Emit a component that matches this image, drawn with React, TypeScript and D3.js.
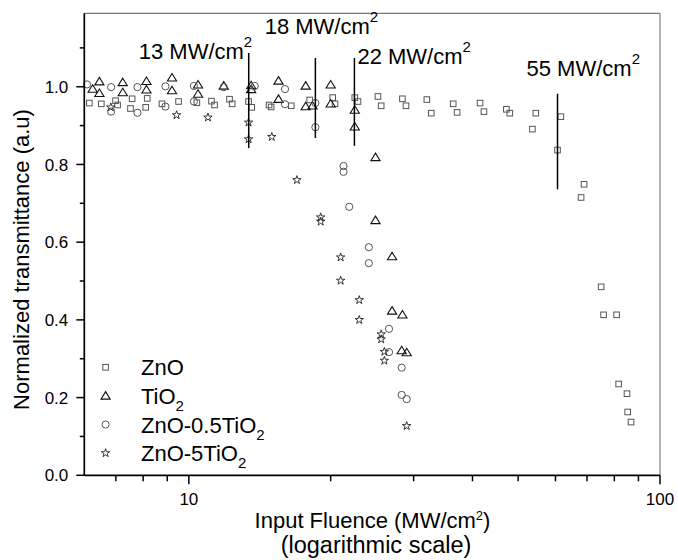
import React from 'react'
import * as d3 from 'd3'

const chartWidth = 678
const chartHeight = 560
const margin = { left: 84.3, top: 13.3, right: 18, bottom: 84.7 }
const innerWidth = chartWidth - margin.left - margin.right
const innerHeight = chartHeight - margin.top - margin.bottom
const font = 'Liberation Sans, Arial, Helvetica, sans-serif'

// ZnO (squares)
const znoFluence = [
  6.15, 6.52, 6.99, 7.06, 7.58, 7.52, 8.1, 8.16, 8.77, 9.51, 10.4, 11.17, 11.34, 12.2, 12.36,
  13.39, 13.6, 14.8, 14.95, 16.5, 18.05, 20.2, 20.43, 22.5, 22.86, 25.2, 25.6, 28.4, 28.9,
  32.0, 32.7, 36.4, 37.1, 41.5, 42.3, 47.2, 48.0, 53.6, 54.5, 60.6, 61.6, 68.0, 69.0, 75.0,
  75.9, 80.9, 81.7, 85.1, 85.4, 86.8,
]
const znoTrans = [
  0.958, 0.956, 0.964, 0.953, 0.969, 0.944, 0.947, 0.97, 0.956, 0.962, 0.959, 0.963, 0.953,
  0.968, 0.956, 0.962, 0.947, 0.953, 0.948, 0.951, 0.966, 0.972, 0.956, 0.972, 0.962, 0.975,
  0.951, 0.969, 0.951, 0.967, 0.932, 0.956, 0.934, 0.958, 0.936, 0.942, 0.932, 0.891, 0.932,
  0.837, 0.923, 0.715, 0.749, 0.485, 0.413, 0.413, 0.235, 0.21, 0.163, 0.137,
]

// TiO2 (triangles)
const tio2Fluence = [
  6.25, 6.46, 6.46, 7.24, 7.24, 8.13, 8.13, 9.21, 9.21, 10.46, 10.46, 11.86, 13.56, 13.56,
  15.5, 15.5, 17.7, 17.7, 18.3, 20.0, 20.0, 22.5, 22.5, 24.9, 24.9, 27.0, 27.0, 28.4, 28.3, 29.0,
]
const tio2Trans = [
  0.994, 1.013, 0.983, 1.011, 0.985, 1.014, 0.992, 1.023, 0.99, 1.005, 0.981, 1.002, 1.003,
  0.993, 1.015, 0.968, 1.002, 0.949, 0.951, 1.005, 0.956, 0.94, 0.897, 0.818, 0.656, 0.563,
  0.423, 0.413, 0.321, 0.316,
]

// ZnO-0.5TiO2 (circles)
const mix05Fluence = [
  6.08, 6.84, 6.84, 7.78, 7.78, 8.92, 8.92, 10.25, 10.25, 11.86, 13.8, 16.0, 16.0, 18.56, 18.56,
  21.3, 21.3, 21.9, 24.1, 24.1, 26.6, 26.6, 28.3, 28.3, 29.0,
]
const mix05Trans = [
  1.006, 0.999, 0.936, 0.999, 0.933, 1.001, 0.949, 1.002, 0.962, 0.999, 1.002, 0.994, 0.955,
  0.958, 0.896, 0.796, 0.781, 0.691, 0.587, 0.546, 0.377, 0.317, 0.277, 0.207, 0.196,
]

// ZnO-5TiO2 (stars)
const mix5Fluence = [
  6.83, 9.42, 10.98, 13.39, 13.39, 15.0, 16.96, 19.05, 19.05, 21.0, 21.0, 23.0, 23.0, 25.6, 25.6,
  26.0, 26.0, 29.0,
]
const mix5Trans = [
  0.947, 0.927, 0.921, 0.908, 0.865, 0.871, 0.76, 0.664, 0.653, 0.561, 0.501, 0.451, 0.4, 0.363,
  0.35, 0.318, 0.295, 0.127,
]

// threshold markers
const thresholdLabels = ['13', '18', '22', '55']
const thresholdFluence = [13.4, 18.56, 22.46, 60.6]
const thresholdTop = [1.087, 1.074, 1.074, 0.982]
const thresholdBottom = [0.842, 0.868, 0.848, 0.736]

const xMajorTicks = [10, 100]
const xMinorTicks = [7, 8, 9, 20, 30, 40, 50, 60, 70, 80, 90]
const yMajorTicks = [0, 0.2, 0.4, 0.6, 0.8, 1.0]
const yMinorTicks = [0.1, 0.3, 0.5, 0.7, 0.9, 1.1]

const xScale = d3.scaleLog().domain([6, 100]).range([0, innerWidth])
const yScale = d3.scaleLinear().domain([0, 1.189]).range([innerHeight, 0])

// label placement (px offsets from each marker line, and baselines)
const labelDx = [-110, -50.7, 3, -31]
const labelY = [46, 21, 51, 62.4]

const starPath = d3.symbol().type(d3.symbolStar).size(22)()

function Square({ x, y }) {
  return <rect x={x - 2.8} y={y - 2.8} width={5.6} height={5.6} fill="none" stroke="#555" strokeWidth={1} />
}
function Triangle({ x, y }) {
  return <path d={`M${x},${y - 4.3}L${x + 4.6},${y + 3.2}L${x - 4.6},${y + 3.2}Z`} fill="none" stroke="#111" strokeWidth={1.1} />
}
function Circle({ x, y }) {
  return <circle cx={x} cy={y} r={3.6} fill="none" stroke="#555" strokeWidth={1} />
}
function Star({ x, y }) {
  return <path d={starPath} transform={`translate(${x},${y})`} fill="none" stroke="#222" strokeWidth={0.9} />
}

const series = [
  { name: 'ZnO', xs: znoFluence, ys: znoTrans, Mark: Square },
  { name: 'TiO2', xs: tio2Fluence, ys: tio2Trans, Mark: Triangle },
  { name: 'ZnO-0.5TiO2', xs: mix05Fluence, ys: mix05Trans, Mark: Circle },
  { name: 'ZnO-5TiO2', xs: mix5Fluence, ys: mix5Trans, Mark: Star },
]

function Subbed({ name }) {
  if (!name.endsWith('2')) return <>{name}</>
  return (
    <>
      {name.slice(0, -1)}
      <tspan dy={7} fontSize={15}>2</tspan>
    </>
  )
}

export default function App() {
  return (
    <svg
      width={chartWidth}
      height={chartHeight}
      style={{ position: 'absolute', left: 0, top: 0, background: '#fff' }}
      fontFamily={font}
    >
      <g transform={`translate(${margin.left},${margin.top})`}>
        {/* frame */}
        <line x1={0} x2={innerWidth} y1={0} y2={0} stroke="#777" strokeWidth={1.3} />
        <line x1={innerWidth} x2={innerWidth} y1={0} y2={innerHeight} stroke="#888" strokeWidth={1.3} />

        {/* points */}
        {series.map(s => (
          <g key={s.name}>
            {s.xs.map((v, i) => (
              <s.Mark key={i} x={xScale(v)} y={yScale(s.ys[i])} />
            ))}
          </g>
        ))}

        {/* threshold lines + labels */}
        {thresholdLabels.map((lab, i) => (
          <g key={lab}>
            <line
              x1={xScale(thresholdFluence[i])}
              x2={xScale(thresholdFluence[i])}
              y1={yScale(thresholdTop[i])}
              y2={yScale(thresholdBottom[i])}
              stroke="#000"
              strokeWidth={1.5}
            />
            <text x={xScale(thresholdFluence[i]) + labelDx[i]} y={labelY[i]} fontSize={22}>
              {lab} MW/cm<tspan dy={-12} fontSize={15}>2</tspan>
            </text>
          </g>
        ))}

        {/* y axis */}
        <line x1={0} x2={0} y1={0} y2={innerHeight} stroke="#000" strokeWidth={1.7} />
        {yMajorTicks.map(t => (
          <g key={t} transform={`translate(0,${yScale(t)})`}>
            <line x1={-8} x2={0} stroke="#000" strokeWidth={1.5} />
            <text x={-16} dy="0.36em" textAnchor="end" fontSize={17}>
              {d3.format('.1f')(t)}
            </text>
          </g>
        ))}
        {yMinorTicks.map(t => (
          <line key={t} x1={-4.5} x2={0} y1={yScale(t)} y2={yScale(t)} stroke="#000" strokeWidth={1.5} />
        ))}

        {/* x axis */}
        <line x1={0} x2={innerWidth} y1={innerHeight} y2={innerHeight} stroke="#000" strokeWidth={1.7} />
        {xMajorTicks.map(t => (
          <g key={t} transform={`translate(${xScale(t)},${innerHeight})`}>
            <line y1={0} y2={9} stroke="#000" strokeWidth={1.5} />
            <text y={29.5} textAnchor="middle" fontSize={17}>
              {t}
            </text>
          </g>
        ))}
        {xMinorTicks.map(t => (
          <line key={t} x1={xScale(t)} x2={xScale(t)} y1={innerHeight} y2={innerHeight + 6} stroke="#000" strokeWidth={1.5} />
        ))}

        {/* legend */}
        {series.map((s, i) => (
          <g key={s.name} transform={`translate(0,${354 + i * 28.6})`}>
            <s.Mark x={21.3} y={0} />
            <text x={56.7} y={8} fontSize={22}>
              <Subbed name={s.name} />
            </text>
          </g>
        ))}
      </g>

      {/* axis titles */}
      <text x={372.5} y={528} textAnchor="middle" fontSize={22}>
        Input Fluence (MW/cm<tspan dy={-8} fontSize={13}>2</tspan><tspan dy={8}>)</tspan>
      </text>
      <text x={376} y={553} textAnchor="middle" fontSize={23.5}>
        (logarithmic scale)
      </text>
      <text transform="translate(29,259.5) rotate(-90)" textAnchor="middle" fontSize={22}>
        Normalized transmittance (a.u)
      </text>
    </svg>
  )
}
